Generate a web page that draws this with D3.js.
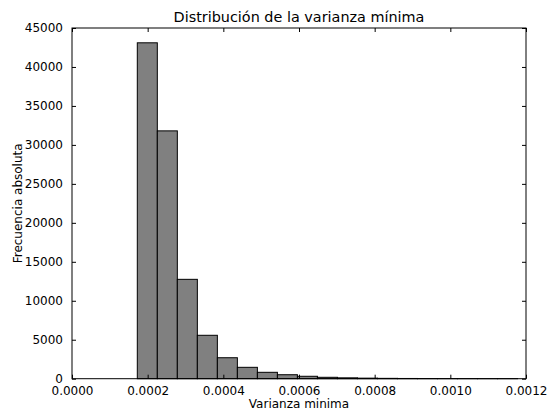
<!DOCTYPE html>
<html>
<head>
<meta charset="utf-8">
<script src="https://cdn.jsdelivr.net/npm/d3@7"></script>
<style>
  body { margin: 0; background: #fff; }
  svg { display: block; font-family: 'DejaVu Sans', sans-serif; }
</style>
</head>
<body>
<svg width="547" height="408" viewBox="0 0 547 408"></svg>
<script>
// histogram counts, one per bin
const counts = [43100, 31800, 12750, 5570, 2690, 1460, 820, 510, 310, 180, 110, 70, 45, 30, 20, 12, 8, 5, 3]
const binStart = 0.0001726
const binWidth = 0.0000529
const xTicks = [0, 0.0002, 0.0004, 0.0006, 0.0008, 0.0010, 0.0012]
const yTicks = [0, 5000, 10000, 15000, 20000, 25000, 30000, 35000, 40000, 45000]

const title = 'Distribución de la varianza mínima'
const xLabel = 'Varianza minima'
const yLabel = 'Frecuencia absoluta'

const svg = d3.select('svg')
const margin = { top: 28, right: 21, bottom: 29.3, left: 72 }
const width = 547
const height = 408
const innerWidth = width - margin.left - margin.right
const innerHeight = height - margin.top - margin.bottom
const tickLen = 4

const xScale = d3.scaleLinear().domain([0, 0.0012]).range([0, innerWidth])
const yScale = d3.scaleLinear().domain([0, 45000]).range([innerHeight, 0])

const g = svg.append('g')
  .attr('transform', `translate(${margin.left},${margin.top})`)

const bins = counts.map((c, i) => ({ x0: binStart + i * binWidth, x1: binStart + (i + 1) * binWidth, count: c }))

g.selectAll('rect.bar').data(bins).enter()
  .append('rect')
  .attr('class', 'bar')
  .attr('x', d => xScale(d.x0))
  .attr('width', d => xScale(d.x1) - xScale(d.x0))
  .attr('y', d => yScale(d.count))
  .attr('height', d => innerHeight - yScale(d.count))
  .style('fill', '#808080')
  .attr('stroke', 'black')
  .attr('stroke-width', 1)

// axes: ticks inward on all four sides (matplotlib classic)
const fmtX = d3.format('.4f')
const xAxis = d3.axisBottom(xScale).tickValues(xTicks).tickSize(-tickLen).tickPadding(8).tickFormat(fmtX)
const xAxisTop = d3.axisTop(xScale).tickValues(xTicks).tickSize(-tickLen).tickFormat('')
const yAxis = d3.axisLeft(yScale).tickValues(yTicks).tickSize(-tickLen).tickPadding(9).tickFormat(d3.format('d'))
const yAxisRight = d3.axisRight(yScale).tickValues(yTicks).tickSize(-tickLen).tickFormat('')

const styleAxis = (sel) => {
  sel.select('.domain').remove()
  sel.selectAll('line').attr('stroke', 'black').attr('stroke-width', 1)
  sel.selectAll('text').attr('fill', 'black').style('font-size', '12px').style('font-family', 'DejaVu Sans')
}

g.append('g').attr('transform', `translate(0,${innerHeight})`).call(xAxis).call(styleAxis)
g.append('g').call(xAxisTop).call(styleAxis)
g.append('g').call(yAxis).call(styleAxis)
g.append('g').attr('transform', `translate(${innerWidth},0)`).call(yAxisRight).call(styleAxis)

g.append('rect')
  .attr('width', innerWidth)
  .attr('height', innerHeight)
  .attr('fill', 'none')
  .attr('stroke', 'black')
  .attr('stroke-width', 1)

svg.append('text')
  .attr('x', margin.left + innerWidth / 2)
  .attr('y', 22)
  .attr('text-anchor', 'middle')
  .style('font-size', '14.4px')
  .text(title)

svg.append('text')
  .attr('x', margin.left + innerWidth / 2)
  .attr('y', 408)
  .attr('text-anchor', 'middle')
  .style('font-size', '12px')
  .text(xLabel)

svg.append('text')
  .attr('transform', `translate(22,${margin.top + innerHeight / 2}) rotate(-90)`)
  .attr('text-anchor', 'middle')
  .style('font-size', '12px')
  .text(yLabel)
</script>
</body>
</html>
